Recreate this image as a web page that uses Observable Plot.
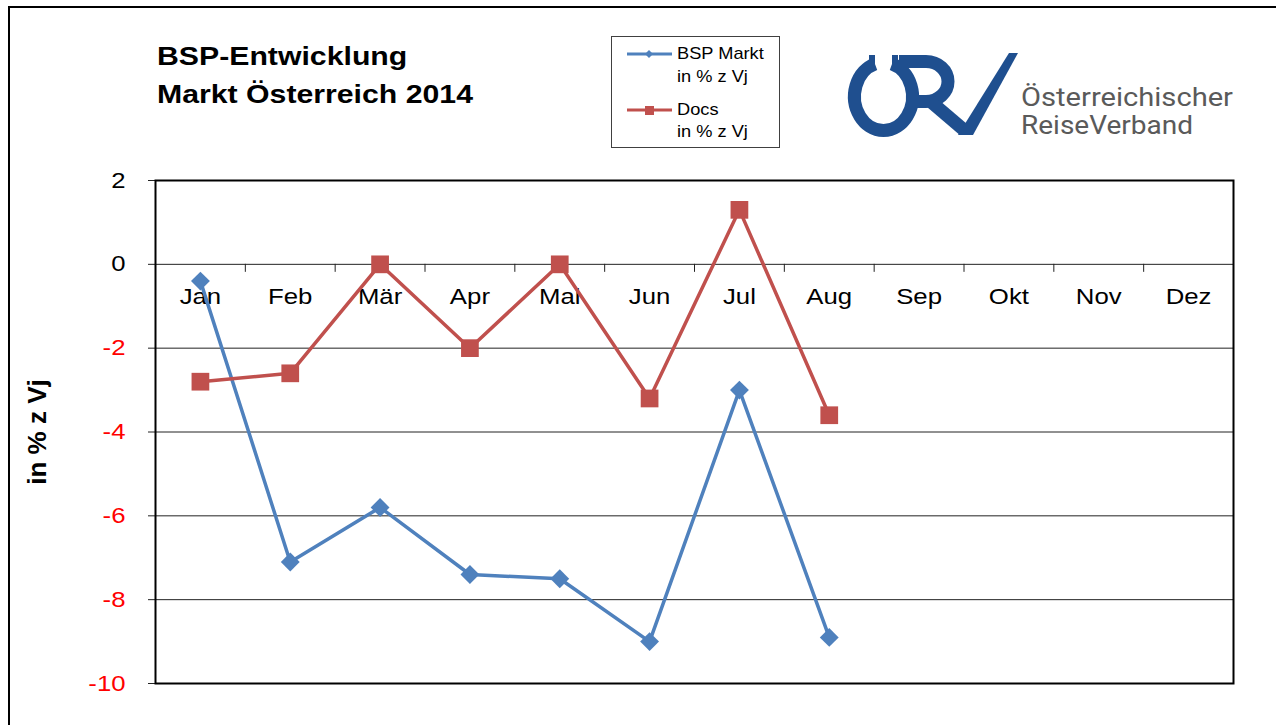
<!DOCTYPE html>
<html>
<head>
<meta charset="utf-8">
<script src="https://cdn.jsdelivr.net/npm/d3@7"></script>
<script src="https://cdn.jsdelivr.net/npm/@observablehq/plot@0.6"></script>
<style>
  html, body { margin: 0; padding: 0; background: #fff; }
  #wrap { position: relative; width: 1276px; height: 725px; overflow: hidden; font-family: "Liberation Sans", Arial, sans-serif; }
  #chart { position: absolute; left: 0; top: 0; }
  #overlay { position: absolute; left: 0; top: 0; pointer-events: none; }
</style>
</head>
<body>
<div id="wrap">
  <div id="chart"></div>
  <svg id="overlay" width="1276" height="725" xmlns="http://www.w3.org/2000/svg"></svg>
</div>
<script>
// ---- data ----
const months = ["Jan", "Feb", "Mär", "Apr", "Mai", "Jun", "Jul", "Aug", "Sep", "Okt", "Nov", "Dez"];
const bspMarkt = [-0.4, -7.1, -5.8, -7.4, -7.5, -9.0, -3.0, -8.9];
const docs = [-2.8, -2.6, 0.0, -2.0, 0.0, -3.2, 1.3, -3.6];
const yTicks = [2, 0, -2, -4, -6, -8, -10];
const titleLines = ["BSP-Entwicklung", "Markt Österreich 2014"];
const seriesNames = [["BSP Markt", "in % z Vj"], ["Docs", "in % z Vj"]];
const yLabel = "in % z Vj";

const BLUE = "#4f81bd";
const RED = "#c0504d";
const SX = 1.17;

const idx = (d, i) => i;
const boundaries = months.slice(1).map((m, i) => i + 0.5);

const chart = Plot.plot({
  width: 1276,
  height: 725,
  marginLeft: 155,
  marginRight: 43,
  marginTop: 180,
  marginBottom: 42,
  style: { fontFamily: "'Liberation Sans', Arial, sans-serif", background: "transparent", overflow: "visible" },
  x: { domain: [-0.5, months.length - 0.5], axis: null },
  y: { domain: [-10, 2], axis: null },
  marks: [
    Plot.ruleY(yTicks.filter(v => v < 2 && v > -10), { stroke: "#222", strokeWidth: 1 }),
    Plot.axisY(yTicks, { tickSize: 7, tickFormat: () => "", stroke: "#222", label: null }),
    Plot.ruleX(boundaries, { x: d => d, y1: 0, y2: 0, insetBottom: -8, stroke: "#222", strokeWidth: 1 }),
    Plot.text(months, { x: idx, y: 0, text: d => d, dy: 33, fontSize: 22, fill: "#000" }),
    Plot.text(yTicks.filter(v => v >= 0), { frameAnchor: "left", y: d => d, text: d => String(d), dx: -30, textAnchor: "end", fontSize: 22, fill: "#000" }),
    Plot.text(yTicks.filter(v => v < 0), { frameAnchor: "left", y: d => d, text: d => String(d), dx: -30, textAnchor: "end", fontSize: 22, fill: "#ff0000" }),
    Plot.text([yLabel], { frameAnchor: "left", textAnchor: "middle", dx: -118, rotate: -90, text: d => d, fontSize: 26, fontWeight: "bold", fill: "#000" }),
    Plot.frame({ stroke: "#000", strokeWidth: 2 }),
    Plot.line(bspMarkt, { x: idx, y: d => d, stroke: BLUE, strokeWidth: 3.5 }),
    Plot.dot(bspMarkt, { x: idx, y: d => d, symbol: "diamond2", r: 8.5, fill: BLUE, stroke: "none" }),
    Plot.line(docs, { x: idx, y: d => d, stroke: RED, strokeWidth: 3.5 }),
    Plot.dot(docs, { x: idx, y: d => d, symbol: "square", r: 10, fill: RED, stroke: "none" })
  ]
});
document.getElementById("chart").appendChild(chart);

// ---- overlay: frame, title, legend, logo ----
const ov = document.getElementById("overlay");
const NS = "http://www.w3.org/2000/svg";
function el(tag, attrs, parent = ov, text) {
  const e = document.createElementNS(NS, tag);
  for (const k in attrs) e.setAttribute(k, attrs[k]);
  if (text != null) e.textContent = text;
  parent.appendChild(e);
  return e;
}
const FF = "'Liberation Sans', Arial, sans-serif";
// outer slide border (top + left)
el("path", { d: "M 9 725 V 7 H 1276", fill: "none", stroke: "#000", "stroke-width": 2 });

// title (horizontally stretched like the original)
el("text", { transform: `translate(157,65) scale(1.21,1)`, "font-size": 25, "font-weight": "bold", fill: "#000", "font-family": FF }, ov, titleLines[0]);
el("text", { transform: `translate(157,103) scale(1.21,1)`, "font-size": 25, "font-weight": "bold", fill: "#000", "font-family": FF }, ov, titleLines[1]);

// legend
el("rect", { x: 611.5, y: 36.5, width: 168, height: 111, fill: "#fff", stroke: "#404040", "stroke-width": 1 });
el("line", { x1: 627, x2: 672, y1: 54, y2: 54, stroke: BLUE, "stroke-width": 3 });
el("path", { d: "M 649 50 L 653 54 L 649 58 L 645 54 Z", fill: BLUE });
el("line", { x1: 627, x2: 672, y1: 110, y2: 110, stroke: RED, "stroke-width": 3 });
el("rect", { x: 645, y: 106, width: 9, height: 9, fill: RED });
const legY = [[59, 82], [115, 137]];
seriesNames.forEach((lines, s) => {
  lines.forEach((t, j) => {
    el("text", { transform: `translate(677,${legY[s][j]}) scale(1.14,1)`, "font-size": 16, fill: "#000", "font-family": FF }, ov, t);
  });
});

// logo
const LB = "#1f4f8f";
const g = el("g", {});
el("path", { d: "M 875 64 A 29 34 0 1 0 892 64", fill: "none", stroke: LB, "stroke-width": 13 }, g);
el("rect", { x: 869, y: 55, width: 6, height: 11, fill: LB }, g);
el("rect", { x: 892, y: 55, width: 6, height: 11, fill: LB }, g);
el("path", { d: "M 899 61.5 H 926 A 22 20 0 0 1 926 101.5 H 916", fill: "none", stroke: LB, "stroke-width": 13 }, g);
el("line", { x1: 930, y1: 101, x2: 964, y2: 130, stroke: LB, "stroke-width": 13 }, g);
el("path", { d: "M 958 135 L 1009 53 L 1018 53 L 973 135 Z", fill: LB }, g);
el("text", { x: 1021, y: 106, "font-size": 26, fill: "#5a5a5a", textLength: 212, lengthAdjust: "spacingAndGlyphs", "font-family": "Roboto, 'DejaVu Sans', sans-serif" }, g, "Österreichischer");
el("text", { x: 1021, y: 134, "font-size": 26, fill: "#5a5a5a", textLength: 172, lengthAdjust: "spacingAndGlyphs", "font-family": "Roboto, 'DejaVu Sans', sans-serif" }, g, "ReiseVerband");

// horizontal stretch of the chart's texts (original picture is stretched)
chart.querySelectorAll("text").forEach(t => {
  if (t.textContent === "" || t.textContent === yLabel) return;
  const L = t.getComputedTextLength();
  if (L > 0) {
    t.setAttribute("textLength", (L * SX).toFixed(1));
    t.setAttribute("lengthAdjust", "spacingAndGlyphs");
  }
});
</script>
</body>
</html>
